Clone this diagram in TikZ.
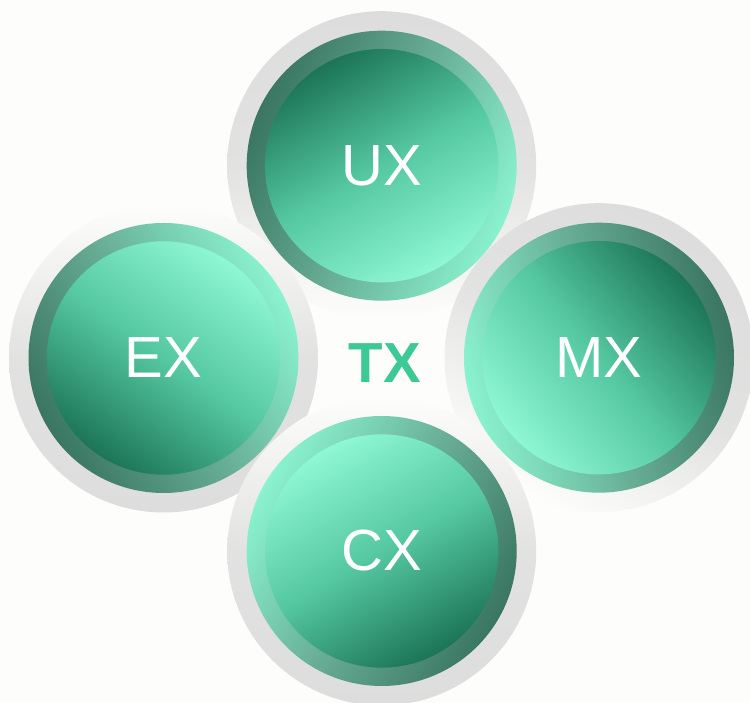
\documentclass[tikz,border=0pt]{standalone}
\usepackage{fontspec}
\setmainfont{Liberation Sans}
\definecolor{bg}{HTML}{FDFDFB}
\definecolor{ringgray}{HTML}{DDDDDD}
\definecolor{discdark}{HTML}{1C7556}
\definecolor{discmid}{HTML}{55C8A1}
\definecolor{disclight}{HTML}{8EF7D3}
\definecolor{ringdark}{HTML}{3A7662}
\definecolor{ringmid}{HTML}{68AD96}
\definecolor{ringlight}{HTML}{8AF2CE}
\definecolor{txgreen}{HTML}{3CC995}
\begin{document}
\begin{tikzpicture}[x=1pt,y=1pt,
  halo/.style={circle, inner sep=0pt, minimum size=309pt, top color=ringgray, bottom color=bg, middle color=ringgray!85!bg, shading angle=#1},
  band/.style={circle, inner sep=0pt, minimum size=270pt, top color=ringdark, bottom color=ringlight, middle color=ringmid, shading angle=#1},
  disc/.style={circle, inner sep=0pt, minimum size=233.4pt, top color=discdark, bottom color=disclight, middle color=discmid, shading angle=#1, text=white, font=\fontsize{58}{58}\selectfont},
]
\fill[bg] (0,0) rectangle (750,703);
\useasboundingbox (0,0) rectangle (750,703);
% outer grey halos
\node[halo=0]   (uxh) at (381.7,537.3) {};
\node[halo=180] (exh) at (163.5,345) {};
\node[halo=-30] (mxh) at (599,345.3) {};
\node[halo=180] (cxh) at (381.7,152) {};
% dark bands
\node[band=65]   (uxb) at (uxh.center) {};
\node[band=120]  (exb) at (exh.center) {};
\node[band=-75]  (mxb) at (mxh.center) {};
\node[band=-120] (cxb) at (cxh.center) {};
% discs with labels
\node[disc=30]   (ux) at (uxh.center) {UX};
\node[disc=145]  (ex) at (exh.center) {EX};
\node[disc=-50]  (mx) at (mxh.center) {MX};
\node[disc=-150] (cx) at (cxh.center) {CX};
% centre label
\node[text=txgreen, font=\fontsize{56.5}{56.5}\selectfont\bfseries] (tx) at (385,340.3) {TX};
\end{tikzpicture}
\end{document}
